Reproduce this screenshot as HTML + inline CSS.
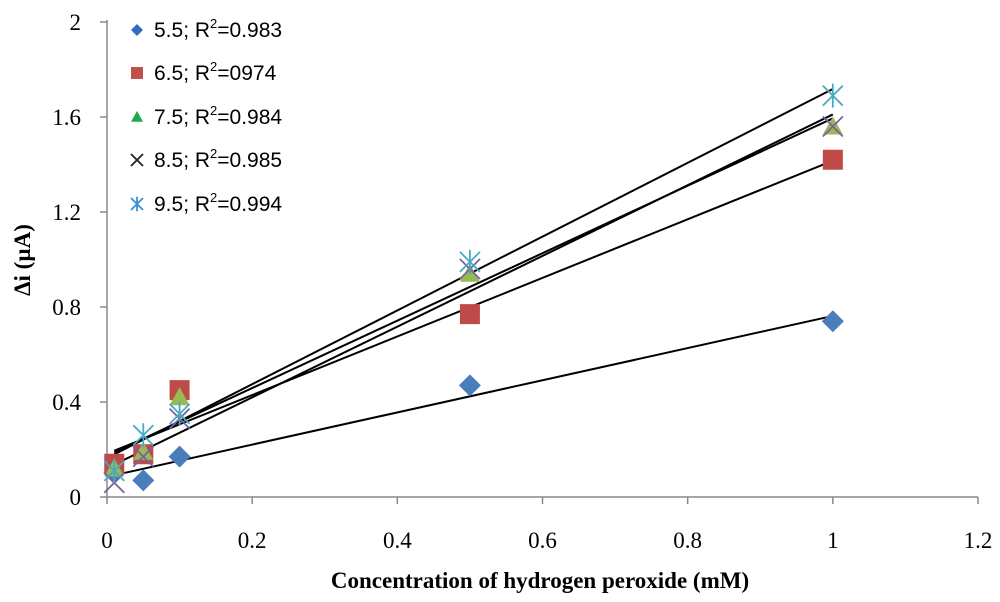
<!DOCTYPE html>
<html><head><meta charset="utf-8"><style>
body{margin:0;background:#fff;}
svg{display:block;}
</style></head><body>
<svg id="chart" width="1000" height="602" xmlns="http://www.w3.org/2000/svg">
<g id="axes"></g>
<g id="trend"></g>
<g id="marks"></g>
<g id="legend"></g>
<text x="540" y="588" text-anchor="middle" font-family="Liberation Serif, serif" font-weight="bold" font-size="23">Concentration of hydrogen peroxide (mM)</text>
<text transform="translate(30,260) rotate(-90)" text-anchor="middle" font-family="Liberation Serif, serif" font-weight="bold" font-size="23">Δi (µA)</text>
</svg>
<script>
const xValues = [0.01, 0.05, 0.1, 0.5, 1];
const series55 = [0.10, 0.07, 0.17, 0.47, 0.74];
const series65 = [0.14, 0.18, 0.45, 0.77, 1.42];
const series75 = [0.12, 0.19, 0.42, 0.94, 1.56];
const series85 = [0.06, 0.17, 0.33, 0.96, 1.56];
const series95 = [0.11, 0.26, 0.35, 0.99, 1.69];
const seriesNames = ["5.5", "6.5", "7.5", "8.5", "9.5"];
const r2Labels = ["0.983", "0974", "0.984", "0.985", "0.994"];
const xTicks = ["0", "0.2", "0.4", "0.6", "0.8", "1", "1.2"];
const yTicks = ["0", "0.4", "0.8", "1.2", "1.6", "2"];

const NS = "http://www.w3.org/2000/svg";
const X0 = 107, X1 = 978, Y0 = 497, Y1 = 22;
const sx = v => X0 + v / 1.2 * (X1 - X0);
const sy = v => Y0 - v / 2 * (Y0 - Y1);
function mk(tag, attrs, parent) {
  const e = document.createElementNS(NS, tag);
  for (const k in attrs) e.setAttribute(k, attrs[k]);
  parent.appendChild(e); return e;
}
const axes = document.getElementById('axes');
let l = mk('line', {x1: X0, y1: Y1 - 2, x2: X0, y2: Y0, stroke: '#888', 'stroke-width': 1.5}, axes);


l = mk('line', {x1: X0, y1: Y0, x2: X1, y2: Y0, stroke: '#888', 'stroke-width': 1.5}, axes);


xTicks.forEach(t => {
  const x = sx(parseFloat(t));
  mk('line', {x1: x, y1: Y0, x2: x, y2: Y0 + 7, stroke: '#888', 'stroke-width': 1.5}, axes);
  const tx = mk('text', {x: x, y: 548, 'text-anchor': 'middle', 'font-family': 'Liberation Serif, serif', 'font-size': 23}, axes);
  tx.textContent = t;
  
  
});
yTicks.forEach(t => {
  const y = sy(parseFloat(t));
  mk('line', {x1: X0 - 7, y1: y, x2: X0, y2: y, stroke: '#888', 'stroke-width': 1.5}, axes);
  const tx = mk('text', {x: 81, y: y + 8, 'text-anchor': 'end', 'font-family': 'Liberation Serif, serif', 'font-size': 23}, axes);
  tx.textContent = t;
  
  
});

const allSeries = [series55, series65, series75, series85, series95];
const colors = ['#4a7ebb', '#be4b48', '#98b954', '#7d60a0', '#46aac5'];
const legendColors = ['#2f6fbf', '#c0504d', '#1ea84b', '#222', '#3a8fd8'];
const shapes = ['diamond', 'square', 'triangle', 'x', 'star'];
function marker(g, shape, x, y, s, c) {
  if (shape === 'diamond') mk('polygon', {points: `${x},${y-s} ${x+s},${y} ${x},${y+s} ${x-s},${y}`, fill: c}, g);
  else if (shape === 'square') mk('rect', {x: x - s, y: y - s, width: 2 * s, height: 2 * s, fill: c}, g);
  else if (shape === 'triangle') mk('polygon', {points: `${x},${y-s} ${x+s},${y+s*0.8} ${x-s},${y+s*0.8}`, fill: c}, g);
  else if (shape === 'x') mk('path', {d: `M${x-s},${y-s}L${x+s},${y+s}M${x-s},${y+s}L${x+s},${y-s}`, stroke: c, 'stroke-width': 1.8, fill: 'none'}, g);
  else mk('path', {d: `M${x-s},${y-s}L${x+s},${y+s}M${x-s},${y+s}L${x+s},${y-s}M${x},${y-s*1.2}L${x},${y+s*1.2}`, stroke: c, 'stroke-width': 1.8, fill: 'none'}, g);
}
const marks = document.getElementById('marks');
const trend = document.getElementById('trend');
allSeries.forEach((ys, i) => {
  const g = mk('g', {}, marks);
  
  
  ys.forEach((v, j) => marker(g, shapes[i], sx(xValues[j]), sy(v), i === 0 ? 11 : 10, colors[i]));
  const n = xValues.length;
  const mx = xValues.reduce((a, b) => a + b) / n, my = ys.reduce((a, b) => a + b) / n;
  let num = 0, den = 0;
  xValues.forEach((x, j) => { num += (x - mx) * (ys[j] - my); den += (x - mx) * (x - mx); });
  const m = num / den, b = my - m * mx;
  const xa = xValues[0], xb = xValues[n - 1];
  const tl = mk('line', {x1: sx(xa), y1: sy(m * xa + b), x2: sx(xb), y2: sy(m * xb + b), stroke: '#000', 'stroke-width': 2}, trend);
  
  
});
const legend = document.getElementById('legend');
const rowY = [30, 73, 117, 160, 204];
seriesNames.forEach((nm, i) => {
  const g = mk('g', {}, legend);
  
  
  marker(g, shapes[i], 137, rowY[i], 6, legendColors[i]);
  const t = mk('text', {x: 154, y: rowY[i] + 7, 'font-family': 'Liberation Sans, sans-serif', 'font-size': 21}, g);
  t.innerHTML = nm + '; R<tspan dy="-9" font-size="13">2</tspan><tspan dy="9">=' + r2Labels[i] + '</tspan>';
});
</script>
</body></html>
